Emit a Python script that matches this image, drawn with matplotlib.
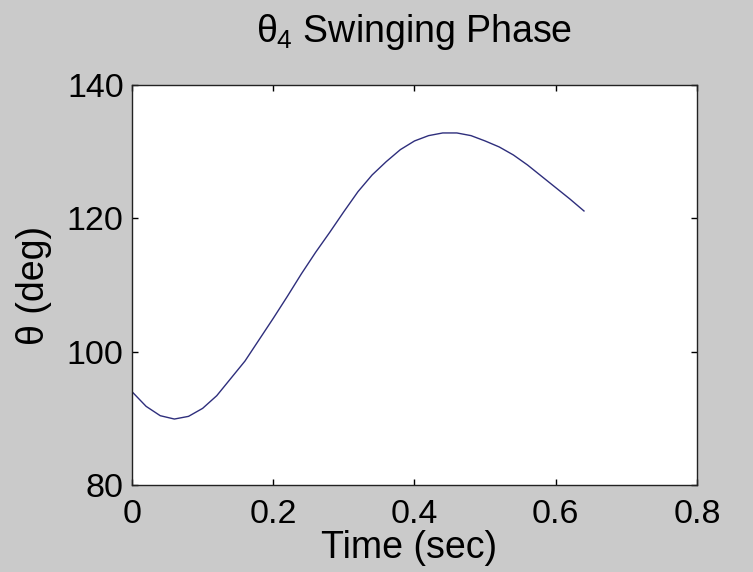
import matplotlib
matplotlib.use("Agg")
import matplotlib.pyplot as plt

# Joint angle theta_4 over the swinging phase
time_sec = [0.00, 0.02, 0.04, 0.06, 0.08, 0.10, 0.12, 0.14, 0.16, 0.18,
            0.20, 0.22, 0.24, 0.26, 0.28, 0.30, 0.32, 0.34, 0.36, 0.38,
            0.40, 0.42, 0.44, 0.46, 0.48, 0.50, 0.52, 0.54, 0.56, 0.58,
            0.60, 0.62, 0.64]
theta_deg = [94.0, 91.8, 90.4, 89.9, 90.3, 91.5, 93.4, 96.0, 98.6, 101.8,
             105.0, 108.3, 111.7, 114.9, 117.9, 121.0, 124.0, 126.5, 128.5, 130.3,
             131.6, 132.4, 132.8, 132.8, 132.4, 131.6, 130.7, 129.5, 128.0, 126.3,
             124.6, 122.9, 121.1]

x_ticks = [0, 0.2, 0.4, 0.6, 0.8]
x_tick_labels = ["0", "0.2", "0.4", "0.6", "0.8"]
y_ticks = [80, 100, 120, 140]
y_tick_labels = ["80", "100", "120", "140"]

plt.rcParams["font.family"] = ["Liberation Sans", "DejaVu Sans"]
plt.rcParams["mathtext.fontset"] = "custom"
plt.rcParams["mathtext.rm"] = "Liberation Sans"
plt.rcParams["mathtext.it"] = "Liberation Sans"
plt.rcParams["mathtext.bf"] = "Liberation Sans:bold"

fig = plt.figure(figsize=(7.53, 5.72), dpi=100, facecolor="#cacaca")
ax = fig.add_axes([0.1753, 0.1520, 0.7503, 0.6995])
ax.set_facecolor("white")

ax.plot(time_sec, theta_deg, color="#2e2e7c", linewidth=1.0)

ax.set_xlim(0, 0.8)
ax.set_ylim(80, 140)
ax.set_xticks(x_ticks)
ax.set_xticklabels(x_tick_labels)
ax.set_yticks(y_ticks)
ax.set_yticklabels(y_tick_labels)

ax.tick_params(direction="in", length=4, width=1.0, labelsize=24.5,
               top=True, right=True, colors="black")
ax.tick_params(axis="x", pad=10)
ax.tick_params(axis="y", pad=6)
for s in ax.spines.values():
    s.set_linewidth(1.0)
    s.set_color("#222222")

ax.set_title(r"$\theta_4$ Swinging Phase", fontsize=27, pad=31)
ax.set_xlabel("Time (sec)", fontsize=27)
ax.set_ylabel("θ (deg)", fontsize=27)
ax.xaxis.set_label_coords(0.49, -0.113)
ax.yaxis.set_label_coords(-0.142, 0.5)

fig.savefig("out.png", dpi=100, facecolor=fig.get_facecolor())
